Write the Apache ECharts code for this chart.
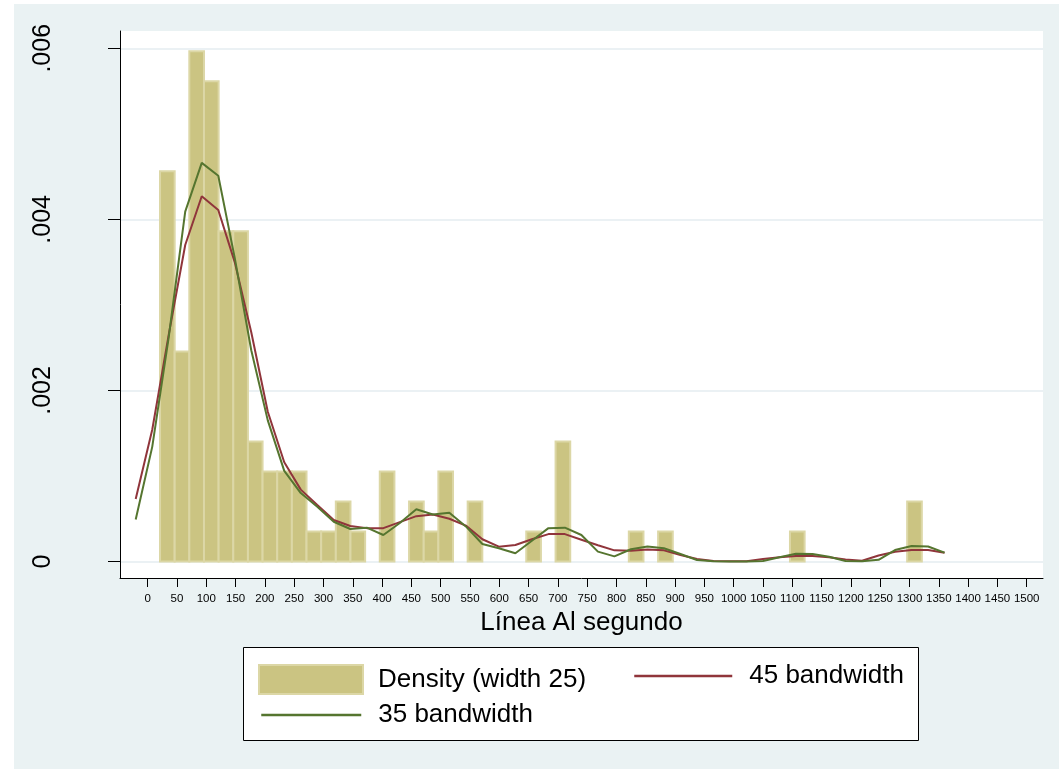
<!DOCTYPE html>
<html>
<head>
<meta charset="utf-8">
<script src="https://cdn.jsdelivr.net/npm/echarts@6/dist/echarts.min.js"></script>
<style>
  html, body { margin: 0; padding: 0; background: #ffffff; }
  #chart { width: 1059px; height: 769px; }
</style>
</head>
<body>
<div id="chart"></div>
<script>
// Histogram bins (width 25): left edge of each non-empty bin and its density
const binWidth = 25;
const binLeft = [21, 46, 71, 96, 121, 146, 171, 196, 221, 246, 271, 296, 321, 346,
                 396, 446, 471, 496, 546, 646, 696, 821, 871, 1096, 1296];
const binDensity = [0.004561, 0.002456, 0.005965, 0.005614, 0.003860, 0.003860, 0.001404,
                    0.001053, 0.001053, 0.001053, 0.000351, 0.000351, 0.000702, 0.000351,
                    0.001053, 0.000702, 0.000351, 0.001053, 0.000702, 0.000351, 0.001404,
                    0.000351, 0.000351, 0.000351, 0.000702];

// Kernel density evaluation points
const evalPoints = [-20.5, 7.7, 35.8, 64.0, 92.2, 120.4, 148.5, 176.7, 204.9, 233.0,
                    261.2, 289.4, 317.5, 345.7, 373.9, 402.1, 430.2, 458.4, 486.6, 514.7,
                    542.9, 571.1, 599.2, 627.4, 655.6, 683.8, 711.9, 740.1, 768.3, 796.4,
                    824.6, 852.8, 880.9, 909.1, 937.3, 965.5, 993.6, 1021.8, 1050.0, 1078.1,
                    1106.3, 1134.5, 1162.6, 1190.8, 1219.0, 1247.2, 1275.3, 1303.5, 1331.7, 1359.8];

// Density estimate, bandwidth 45
const kde45 = [0.00073, 0.00154, 0.00265, 0.00370, 0.00427, 0.00411, 0.00350, 0.00268, 0.00175, 0.00116,
               0.00084, 0.00066, 0.000485, 0.000415, 0.00039, 0.00039, 0.00046, 0.00053, 0.00055, 0.00050,
               0.00042, 0.00026, 0.000173, 0.000193, 0.00026, 0.00032, 0.00032, 0.000255, 0.00019, 0.00013,
               0.000126, 0.00014, 0.00013, 0.000076, 0.00003, 0.000006, 0.000002, 0.000004, 0.00003, 0.00005,
               0.000064, 0.000064, 0.000049, 0.000022, 0.000009, 0.00007, 0.000115, 0.000134, 0.000134, 0.000103];

// Density estimate, bandwidth 35
const kde35 = [0.00049, 0.00134, 0.00262, 0.00409, 0.00466, 0.00451, 0.00355, 0.00247, 0.00165, 0.00106,
               0.00080, 0.00064, 0.000465, 0.00038, 0.000395, 0.00031, 0.00045, 0.00061, 0.00055, 0.00057,
               0.00041, 0.000205, 0.000154, 0.000096, 0.000243, 0.00039, 0.000395, 0.00031, 0.000115, 0.00006,
               0.000143, 0.000175, 0.000155, 0.000088, 0.000018, 0.000004, 0.000001, 0.000001, 0.000006, 0.00005,
               0.00009, 0.000088, 0.000056, 0.000005, 0.000002, 0.00002, 0.000134, 0.000181, 0.000175, 0.000103];

// Axis ticks and labels
const xTicks = [0, 50, 100, 150, 200, 250, 300, 350, 400, 450, 500, 550, 600, 650, 700, 750,
                800, 850, 900, 950, 1000, 1050, 1100, 1150, 1200, 1250, 1300, 1350, 1400, 1450, 1500];
const yTicks = [0, 0.002, 0.004, 0.006];
const yTickLabels = ['0', '.002', '.004', '.006'];

const xTitle = 'Línea Al segundo';
const barName = 'Density (width 25)';
const name45 = '45 bandwidth';
const name35 = '35 bandwidth';

const FONT = '"Liberation Sans", Arial, Helvetica, sans-serif';
const BAR_FILL = '#cbc482';
const BAR_EDGE = '#dcd7a6';
const RED = '#90353b';
const GREEN = '#55752f';

const barData = binLeft.map((x0, i) => [x0, x0 + binWidth, binDensity[i]]);
const line45 = evalPoints.map((x, i) => [x, kde45[i]]);
const line35 = evalPoints.map((x, i) => [x, kde35[i]]);

const chart = echarts.init(document.getElementById('chart'), null, { renderer: 'canvas' });

const legendText = (pad) => ({
  fontSize: 26, color: '#000', fontFamily: FONT, padding: [0, 0, 0, pad]
});

chart.setOption({
  animation: false,
  textStyle: { fontFamily: FONT },
  graphic: [
    { type: 'rect', z: -5, silent: true,
      shape: { x: 14, y: 4, width: 1045, height: 765 },
      style: { fill: '#eaf2f3' } },
    { type: 'rect', z: 1, silent: true,
      shape: { x: 243.5, y: 647.5, width: 675, height: 93 },
      style: { fill: '#ffffff', stroke: '#000000', lineWidth: 1 } }
  ],
  grid: {
    left: 120, right: 16, top: 31, bottom: 191,
    show: true, backgroundColor: '#ffffff', borderWidth: 0
  },
  xAxis: {
    type: 'value',
    min: -47.3, max: 1527.8,
    axisLine: { show: true, onZero: false, lineStyle: { color: '#000', width: 1 } },
    axisTick: { show: true, customValues: xTicks, length: 9, lineStyle: { color: '#000', width: 1 } },
    axisLabel: {
      customValues: xTicks, fontSize: 11.5, color: '#000', margin: 15, fontFamily: FONT,
      hideOverlap: false, showMinLabel: true, showMaxLabel: true,
      formatter: (v) => String(v)
    },
    splitLine: { show: false },
    name: xTitle,
    nameLocation: 'middle',
    nameGap: 28,
    nameTextStyle: { fontSize: 26, color: '#000', fontFamily: FONT }
  },
  yAxis: {
    type: 'value',
    min: -0.000193, max: 0.006202,
    axisLine: { show: true, onZero: false, lineStyle: { color: '#000', width: 1 } },
    axisTick: { show: true, customValues: yTicks, length: 12, lineStyle: { color: '#000', width: 1 } },
    axisLabel: {
      customValues: yTicks, rotate: 90, fontSize: 25, color: '#000', margin: 64, fontFamily: FONT,
      formatter: (v) => { const i = yTicks.indexOf(v); return i >= 0 ? yTickLabels[i] : ''; }
    },
    splitLine: { show: true, lineStyle: { color: '#e4edf0', width: 1.5 } }
  },
  legend: [
    { left: 253, top: 659, itemWidth: 104, itemHeight: 29, selectedMode: false,
      data: [{ name: barName, icon: 'rect',
               itemStyle: { color: BAR_FILL, borderColor: BAR_EDGE, borderWidth: 2 } }],
      textStyle: legendText(10) },
    { left: 628, top: 658, itemWidth: 98, itemHeight: 29, selectedMode: false,
      itemStyle: { opacity: 0 }, lineStyle: { width: 2.5, color: RED },
      data: [name45], textStyle: legendText(12) },
    { left: 255, top: 697, itemWidth: 100, itemHeight: 29, selectedMode: false,
      itemStyle: { opacity: 0 }, lineStyle: { width: 2.5, color: GREEN },
      data: [name35], textStyle: legendText(12) }
  ],
  series: [
    {
      name: barName,
      type: 'custom',
      data: barData,
      encode: { x: [0, 1], y: 2 },
      itemStyle: { color: BAR_FILL },
      renderItem: (params, api) => {
        const p0 = api.coord([api.value(0), 0]);
        const p1 = api.coord([api.value(1), api.value(2)]);
        return {
          type: 'rect',
          shape: { x: p0[0], y: p1[1], width: p1[0] - p0[0], height: p0[1] - p1[1] },
          style: { fill: BAR_FILL, stroke: BAR_EDGE, lineWidth: 2 }
        };
      }
    },
    {
      name: name45, type: 'line', data: line45,
      symbol: 'none', showSymbol: false,
      lineStyle: { color: RED, width: 2 }, itemStyle: { color: RED }
    },
    {
      name: name35, type: 'line', data: line35,
      symbol: 'none', showSymbol: false,
      lineStyle: { color: GREEN, width: 2 }, itemStyle: { color: GREEN }
    }
  ]
});
</script>
</body>
</html>
